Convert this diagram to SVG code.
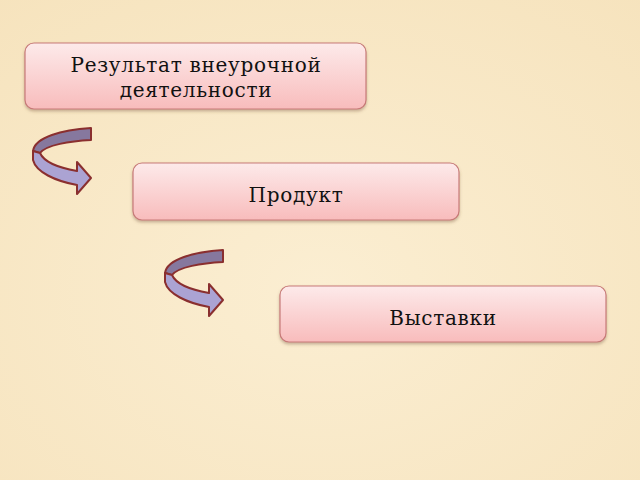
<svg xmlns="http://www.w3.org/2000/svg" width="640" height="480" viewBox="0 0 640 480">
<style>
.box{fill:url(#g);stroke:#c77a78;stroke-width:1.2}
.t{font-family:"DejaVu Serif",serif;font-size:20px;letter-spacing:0.7px;fill:#111;text-anchor:middle}
.back{fill:#86789e;stroke:#8a2f2f;stroke-width:2;stroke-linejoin:round}
.front{fill:#aba3d3;stroke:#8a2f2f;stroke-width:2;stroke-linejoin:round}
</style>
<defs>
<linearGradient id="g" x1="0" y1="0" x2="0" y2="1">
<stop offset="0" stop-color="#fdeaea"/>
<stop offset="1" stop-color="#f8bcbc"/>
</linearGradient>
<radialGradient id="bg" cx="0.5" cy="0.6" r="0.8">
<stop offset="0" stop-color="#fbeed2"/>
<stop offset="1" stop-color="#f6e3bd"/>
</radialGradient>
<filter id="sh" x="-5%" y="-10%" width="110%" height="130%">
<feDropShadow dx="0" dy="2" stdDeviation="1.5" flood-color="#7a5a40" flood-opacity="0.4"/>
</filter>
<g id="arr">
<path class="back" d="M91,128 L91,140 C70,141 46,145 40,153 L33,151 C35,137 62,130 91,128 Z"/>
<path class="front" d="M33,151 L40,153 C44,162 60,168 77,171 L77,162 L91,178 L77,194 L77,185 C55,181 36,172 33,160 Z"/>
</g>
</defs>
<rect width="640" height="480" fill="url(#bg)"/>
<g id="node1">
<rect class="box" x="25" y="43" width="341" height="66" rx="9" filter="url(#sh)"/>
<text class="t" x="196" y="72">Результат внеурочной</text>
<text class="t" x="196" y="97">деятельности</text>
</g>
<g id="node2">
<rect class="box" x="133" y="163" width="326" height="57" rx="9" filter="url(#sh)"/>
<text class="t" x="296" y="202">Продукт</text>
</g>
<g id="node3">
<rect class="box" x="280" y="286" width="326" height="56" rx="9" filter="url(#sh)"/>
<text class="t" x="443" y="325">Выставки</text>
</g>
<g id="connectors">
<use href="#arr"/>
<use href="#arr" transform="translate(132,122)"/>
</g>
</svg>
